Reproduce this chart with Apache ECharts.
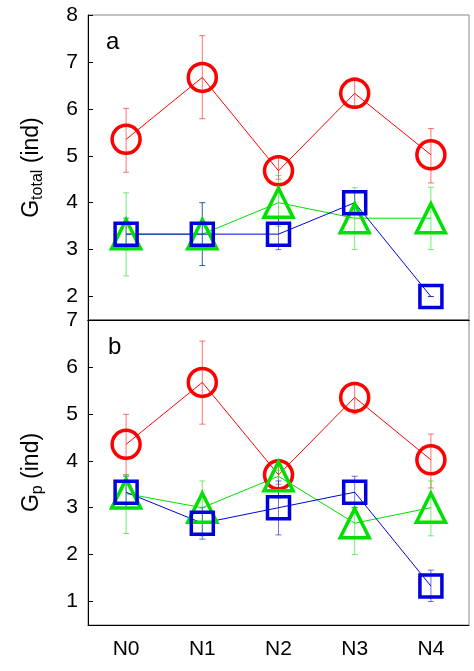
<!DOCTYPE html><html><head><meta charset="utf-8">
<script src="https://cdn.jsdelivr.net/npm/echarts@6/dist/echarts.min.js"></script>
<style>html,body{margin:0;padding:0;background:#fff}#c{width:474px;height:671px}</style></head><body><div id="c"></div>
<script>
const categories=['N0','N1','N2','N3','N4'];
const ticksA=[2,3,4,5,6,7,8];
const ticksB=[1,2,3,4,5,6,7];
// panel a
const aRed=[5.35,6.67,4.68,6.33,5.02];
const aRedLo=[4.65,5.79,4.5,6.01,4.42];
const aRedHi=[6.01,7.56,4.97,6.66,5.58];
const aGreen=[3.33,3.33,4.0,3.67,3.67];
const aGreenLo=[2.44,2.66,3.5,3.0,3.0];
const aGreenHi=[4.21,4.0,4.58,4.32,4.33];
const aBlue=[3.33,3.33,3.33,4.0,2.0];
const aBlueLo=[3.0,2.66,3.0,3.8,2.0];
const aBlueHi=[3.67,4.0,3.67,4.22,2.0];
// panel b
const bRed=[4.35,5.67,3.7,5.35,4.02];
const bRedLo=[3.7,4.78,3.5,5.0,3.42];
const bRedHi=[4.99,6.55,3.9,5.67,4.57];
const bGreen=[3.3,3.0,3.67,2.67,3.0];
const bGreenLo=[2.45,2.4,3.2,2.0,2.4];
const bGreenHi=[3.7,3.57,3.8,3.0,3.57];
const bBlue=[3.33,2.67,3.0,3.33,1.33];
const bBlueLo=[3.0,2.33,2.42,3.0,1.0];
const bBlueHi=[3.67,3.0,3.57,3.67,1.67];

const RED='#ff0000',GREEN='#00e000',BLUE='#0000dd';
function err(lo,hi,color,gi){
  return {type:'custom',xAxisIndex:gi,yAxisIndex:gi,z:1,
    data:lo.map((l,i)=>[i,l,hi[i]]),
    renderItem:(p,api)=>{
      const a=api.coord([api.value(0),api.value(1)]),b=api.coord([api.value(0),api.value(2)]);
      const st={stroke:color,lineWidth:0.8,opacity:0.7};
      return {type:'group',children:[
        {type:'line',shape:{x1:a[0],y1:a[1],x2:b[0],y2:b[1]},style:st},
        {type:'line',shape:{x1:a[0]-3,y1:a[1],x2:a[0]+3,y2:a[1]},style:st},
        {type:'line',shape:{x1:b[0]-3,y1:b[1],x2:b[0]+3,y2:b[1]},style:st}]};
    }};
}
function line(d,color,sym,size,gi){
  return {type:'line',xAxisIndex:gi,yAxisIndex:gi,data:d,symbol:sym,symbolSize:size,z:3,
    lineStyle:{color:color,width:1},itemStyle:{color:'rgba(0,0,0,0)',borderColor:color,borderWidth:3.5},animation:false};
}
const axLab={color:'#000',fontSize:21,fontFamily:'Liberation Sans'};
const chart=echarts.init(document.getElementById('c'));
chart.setOption({
  animation:false,
  grid:[{left:88,right:5,top:15,height:305},{left:88,right:5,top:320,height:305}],
  xAxis:[
    {gridIndex:0,type:'category',data:categories,axisLabel:{show:false},axisTick:{show:false},axisLine:{lineStyle:{color:'#000'}}},
    {gridIndex:1,type:'category',data:categories,axisLabel:Object.assign({margin:14},axLab),axisTick:{alignWithLabel:true,length:5,lineStyle:{color:'#000'}},axisLine:{lineStyle:{color:'#000'}}},
    {gridIndex:1,type:'category',data:categories,position:'top',axisLabel:{show:false},axisTick:{inside:true,alignWithLabel:true,length:5,lineStyle:{color:'#000'}},axisLine:{lineStyle:{color:'#000'}}}
  ],
  yAxis:[
    {gridIndex:0,type:'value',min:1.5,max:8,splitLine:{show:false},axisLine:{show:true,lineStyle:{color:'#000'}},
     axisTick:{show:true,inside:true,length:5,customValues:ticksA,lineStyle:{color:'#000'}},axisLabel:Object.assign({customValues:ticksA,margin:10},axLab),
     name:'{m|G}{s|total}{m| (ind)}',nameLocation:'middle',nameRotate:90,nameGap:42,
     nameTextStyle:{rich:{m:{fontSize:23,fontFamily:'Liberation Sans',color:'#000'},s:{fontSize:16,fontFamily:'Liberation Sans',color:'#000',verticalAlign:'bottom',padding:[12,0,0,0]}}}},
    {gridIndex:1,type:'value',min:0.5,max:7,splitLine:{show:false},axisLine:{show:true,lineStyle:{color:'#000'}},
     axisTick:{show:true,inside:true,length:5,customValues:ticksB,lineStyle:{color:'#000'}},axisLabel:Object.assign({customValues:ticksB,margin:10},axLab),
     name:'{m|G}{s|p}{m| (ind)}',nameLocation:'middle',nameRotate:90,nameGap:42,
     nameTextStyle:{rich:{m:{fontSize:23,fontFamily:'Liberation Sans',color:'#000'},s:{fontSize:16,fontFamily:'Liberation Sans',color:'#000',verticalAlign:'bottom',padding:[12,0,0,0]}}}}
  ],
  graphic:[
    {type:'rect',shape:{x:88,y:15,width:381,height:610},style:{fill:'none',stroke:'#888',lineWidth:1},z:0,silent:true},
    {type:'line',shape:{x1:88,y1:320,x2:469,y2:320},style:{stroke:'#000',lineWidth:1},z:5},
    {type:'text',left:106,top:30,style:{text:'a',font:'24px Liberation Sans',fill:'#000'}},
    {type:'text',left:108,top:335,style:{text:'b',font:'24px Liberation Sans',fill:'#000'}}
  ],
  series:[
    err(aRedLo,aRedHi,RED,0),err(aGreenLo,aGreenHi,GREEN,0),err(aBlueLo,aBlueHi,BLUE,0),
    line(aRed,RED,'circle',28,0),line(aGreen,GREEN,'triangle',29,0),line(aBlue,BLUE,'rect',22,0),
    err(bRedLo,bRedHi,RED,1),err(bGreenLo,bGreenHi,GREEN,1),err(bBlueLo,bBlueHi,BLUE,1),
    line(bRed,RED,'circle',28,1),line(bGreen,GREEN,'triangle',29,1),line(bBlue,BLUE,'rect',22,1)
  ]
});
</script></body></html>
